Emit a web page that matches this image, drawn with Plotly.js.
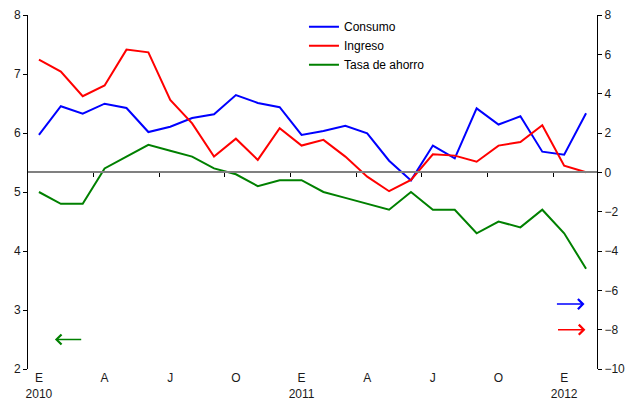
<!DOCTYPE html>
<html>
<head>
<meta charset="utf-8">
<script src="https://cdn.plot.ly/plotly-3.0.1.min.js"></script>
<style>
  html, body { margin: 0; padding: 0; background: #ffffff; }
  #chart { width: 625px; height: 402px; }
</style>
</head>
<body>
<div id="chart"></div>
<script>
// Monthly index, January 2010 to February 2012
const months = [
  '2010-01','2010-02','2010-03','2010-04','2010-05','2010-06','2010-07','2010-08','2010-09','2010-10','2010-11','2010-12',
  '2011-01','2011-02','2011-03','2011-04','2011-05','2011-06','2011-07','2011-08','2011-09','2011-10','2011-11','2011-12',
  '2012-01','2012-02'
];

// Consumption and income growth (right axis, %)
const consumo = [1.9, 3.36, 2.98, 3.49, 3.27, 2.05, 2.32, 2.76, 2.95, 3.93, 3.53, 3.31,
                 1.9, 2.1, 2.37, 1.98, 0.59, -0.41, 1.36, 0.71, 3.25, 2.43, 2.85, 1.05,
                 0.9, 3.0];
const ingreso = [5.73, 5.12, 3.87, 4.42, 6.24, 6.1, 3.68, 2.49, 0.8, 1.71, 0.63, 2.24,
                 1.36, 1.65, 0.8, -0.22, -0.96, -0.39, 0.92, 0.85, 0.54, 1.36, 1.54, 2.39,
                 0.34, 0.0];

// Savings rate (left axis, %)
const tasaAhorro = [5.0, 4.8, 4.8, 5.4, 5.6, 5.8, 5.7, 5.6, 5.4, 5.3, 5.1, 5.2,
                    5.2, 5.0, 4.9, 4.8, 4.7, 5.0, 4.7, 4.7, 4.3, 4.5, 4.4, 4.7,
                    4.3, 3.7];

// Month labels on the category axis
const tickPositions = [0, 3, 6, 9, 12, 15, 18, 21, 24];
const tickLabels = ['E<br>2010', 'A', 'J', 'O', 'E<br>2011', 'A', 'J', 'O', 'E<br>2012'];
// Quarter separators along the zero line
const quarterTicks = [2.5, 5.5, 8.5, 11.5, 14.5, 17.5, 20.5, 23.5];

const idx = months.map((m, i) => i);

const traces = [
  { x: idx, y: consumo, name: 'Consumo', type: 'scatter', mode: 'lines',
    line: { color: '#0000ff', width: 2 }, xaxis: 'x2', yaxis: 'y2' },
  { x: idx, y: ingreso, name: 'Ingreso', type: 'scatter', mode: 'lines',
    line: { color: '#ff0000', width: 2 }, xaxis: 'x2', yaxis: 'y2' },
  { x: idx, y: tasaAhorro, name: 'Tasa de ahorro', type: 'scatter', mode: 'lines',
    line: { color: '#008000', width: 2 }, xaxis: 'x', yaxis: 'y' }
];

const font = { family: 'Liberation Sans, Arial, sans-serif', size: 12, color: '#1a1a1a' };
const xr = [-0.5, 25.5];

const layout = {
  width: 625, height: 402,
  margin: { l: 28, r: 28, t: 15, b: 33 },
  paper_bgcolor: '#ffffff', plot_bgcolor: '#ffffff',
  font: font,
  showlegend: true,
  legend: { x: 0.485, y: 1.008, xanchor: 'left', yanchor: 'top',
            bgcolor: 'rgba(0,0,0,0)', borderwidth: 0, itemwidth: 30,
            font: { family: font.family, size: 12, color: '#000000' } },
  xaxis: {
    range: xr, showgrid: false, zeroline: false, showline: false,
    tickmode: 'array', tickvals: tickPositions, ticktext: tickLabels,
    ticks: '', tickfont: font, fixedrange: true
  },
  xaxis2: {
    overlaying: 'x', anchor: 'free', position: 10 / 18, side: 'bottom',
    range: xr, showgrid: false, zeroline: false,
    showline: true, linecolor: '#808080', linewidth: 2,
    tickmode: 'array', tickvals: quarterTicks, showticklabels: false,
    ticks: 'outside', ticklen: 4, tickwidth: 1, tickcolor: '#000000'
  },
  yaxis: {
    range: [2, 8], tickvals: [2, 3, 4, 5, 6, 7, 8], showgrid: false, zeroline: false,
    showline: true, linecolor: '#000000', linewidth: 1,
    ticks: 'outside', ticklen: 4, tickcolor: '#000000', tickfont: font
  },
  yaxis2: {
    overlaying: 'y', side: 'right', anchor: 'x',
    range: [-10, 8], tickvals: [-10, -8, -6, -4, -2, 0, 2, 4, 6, 8],
    showgrid: false, zeroline: false,
    showline: true, linecolor: '#000000', linewidth: 1,
    ticks: 'outside', ticklen: 4, tickcolor: '#000000', tickfont: font
  },
  annotations: [
    // axis indicators: savings rate reads on the left, growth rates on the right
    { xref: 'x', yref: 'y', x: 0.73, y: 2.5, axref: 'x', ayref: 'y', ax: 2.0, ay: 2.5,
      text: '', showarrow: true, arrowhead: 4, arrowsize: 1.3, arrowwidth: 1.5, arrowcolor: '#008000' },
    { xref: 'x2', yref: 'y2', x: 24.93, y: -6.7, axref: 'x2', ayref: 'y2', ax: 23.6, ay: -6.7,
      text: '', showarrow: true, arrowhead: 4, arrowsize: 1.3, arrowwidth: 1.5, arrowcolor: '#0000ff' },
    { xref: 'x2', yref: 'y2', x: 24.97, y: -8, axref: 'x2', ayref: 'y2', ax: 23.65, ay: -8,
      text: '', showarrow: true, arrowhead: 4, arrowsize: 1.3, arrowwidth: 1.5, arrowcolor: '#ff0000' }
  ]
};

Plotly.newPlot('chart', traces, layout, { staticPlot: true, displayModeBar: false });
</script>
</body>
</html>
